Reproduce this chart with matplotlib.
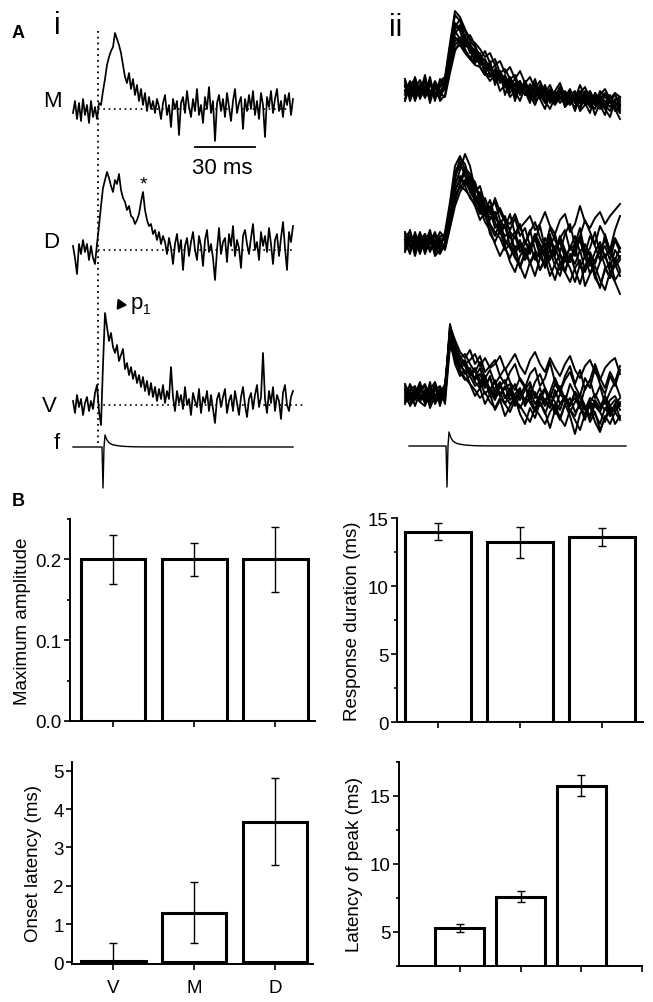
import numpy as np
import matplotlib
matplotlib.use("Agg")
import matplotlib.pyplot as plt
from matplotlib.ticker import MultipleLocator, FormatStrFormatter

plt.rcParams['font.family'] = ['Liberation Sans', 'DejaVu Sans']

W, H = 653, 1003

# ---------------- panel A, i : single responses (amplitude, px units, 1 ms step)
m_i = [-4, 8, -10, 6, -12, 10, -6, 4, -14, 8, -8, 2, -10, 6,
       4, 18, 30, 44, 52, 58, 62, 76, 70, 64, 56, 44, 32, 26, 36, 20, 30, 14, 24, 8, 20, 4,
       16, -2, 12, 0, 8, -4, 10, 2, -10, 6, 14, -6, 4, -18, 10, 0, 8, -26, 6, 12,
       -4, 18, 2, -8, 10, -2, 20, -6, 4, -14, 12, 0, 22, -4, 8, -32, 6, 14, -2, 10,
       -8, 16, 2, -12, 8, 20, -4, 6, 12, -20, 10, -2, 14, 0, 18, -6, 8, -10, 16, 4,
       -28, 12, 2, 18, -4, 10, 20, -2, 8, -8, 14, 4, 16, -6, 10]
d_i = [4, -8, -24, 6, -4, 10, -2, 6, -10, 4, -8, -14,
       6, 24, 44, 62, 70, 78, 72, 64, 58, 70, 66, 76, 60, 52, 48, 40, 44, 34, 32, 26,
       30, 36, 48, 58, 40, 30, 24, 26, 16, 20, 10, 18, 6, 14,
       8, -4, 12, 2, -14, 6, 16, -2, 10, -20, 4, 12, -6, 8, 18, 0, -10, 14, 4, -16,
       10, 20, -2, 6, -8, -30, 0, 22, -4, 8, 12, -12, 16, 4, 24, -6, 10, 2, -18, 14,
       20, 6, -4, 12, 26, 0, 8, -10, 18, 4, 14, -2, 22, 6, -14, 10, 16, -6, 12, 28,
       2, -20, 18, 8, 24]
v_i = [4, -8, 10, -2, 6, -10, 2, 8, -6, 4, -4, 12, 20, -6, -20,
       40, 92, 78, 64, 72, 58, 52, 60, 44, 50, 56, 36, 42, 30, 38, 26, 34, 22, 30, 18,
       28, 14, 24, 10, 22, 8, 18, 4, 16, 6, 20, 2, 14, 6, 38,
       8, -6, 14, 2, 10, -4, 18, 0, 6, -10, 12, 4, -2, 16, -8, 8, 2, 14, -6, 10,
       -4, -18, 6, 12, -2, 8, 16, -8, 4, 10, -6, 14, 2, -10, 8, 18, 0, -12, 6, 12,
       -4, 10, 20, -2, 8, 52, 6, -8, 14, 2, 18, -6, 10, 4, -14, 12, 20, 0, -6, 8, 14]
f_i_t = [0, 14.5, 15, 15.5, 16, 17, 18, 19, 20, 22, 24, 26, 28, 31, 35, 110]
f_i_y = [0, 0, -41, 0, 12, 7, 4.5, 3, 2.2, 1.4, 0.9, 0.6, 0.4, 0.2, 0.1, 0]

# ---------------- panel A, ii : overlaid responses (2.5 ms step)
m_ii = [
    [2, -5, 6, -3, 8, -6, 3, -2, 4, 38, 66, 58, 44, 40, 28, 30, 18, 22, 10, 16, 6, 12, 2, 8, -4, 5, -6, 2, -8, 0, -10, -2, -12, -4, -8, -14, -6, -16, -8, -12, -18, -10, -14, -20],
    [-4, 3, -8, 5, -2, 7, -5, 2, 8, 30, 56, 62, 50, 36, 34, 24, 26, 14, 18, 8, 12, 0, 6, -6, 4, -8, 2, -10, -2, -6, -14, -4, -10, -16, -6, -12, -2, -18, -10, -6, -16, -22, -12, -8],
    [6, -2, 4, -7, 2, -4, 7, -6, 0, 26, 48, 52, 42, 46, 30, 36, 20, 26, 12, 14, 4, 10, -2, 6, -6, 0, -10, 4, -4, -12, -2, -8, -16, -6, -2, -14, -8, -18, -4, -10, -20, -12, -6, -16],
    [-2, 8, -3, 2, -9, 4, -1, 6, 10, 42, 74, 68, 52, 44, 38, 26, 30, 20, 14, 18, 8, 4, 10, -2, 6, -4, -8, 0, -12, -2, -6, -10, -4, -14, -8, -2, -12, -6, -16, -10, -4, -14, -18, -10],
    [3, -6, 1, 9, -4, -8, 2, -3, 6, 34, 58, 50, 38, 32, 26, 32, 16, 12, 20, 6, 10, -4, 4, 8, -6, 2, -2, -8, 0, -14, -6, -10, -2, -12, -18, -8, -14, -6, -10, -20, -14, -8, -22, -16],
    [-6, 1, -4, 3, 6, -2, -7, 4, 4, 22, 44, 50, 46, 40, 36, 28, 22, 24, 12, 8, 14, 2, -4, 4, -2, -10, 4, -6, -14, -4, -8, 0, -10, -6, -14, -18, -4, -12, -8, -16, -6, -12, -18, -24],
    [4, -3, 8, -5, 0, 5, -4, -9, 7, 36, 62, 70, 58, 48, 42, 34, 28, 18, 24, 10, 6, 8, 0, -4, 2, -6, -2, -4, -10, -8, -4, -14, -6, -12, -10, -20, -8, -4, -14, -12, -18, -6, -16, -12],
    [-1, 5, -6, 0, 3, -5, 8, -2, 2, 28, 52, 46, 40, 30, 24, 22, 14, 16, 8, 12, 2, 6, -8, 2, -4, -2, -12, -6, 2, -10, -16, -8, -12, -4, -10, -6, -16, -14, -20, -8, -12, -18, -10, -14],
    [10, -8, 12, -4, 14, -10, 6, -12, -6, 20, 40, 44, 36, 30, 40, 22, 14, 28, 4, 18, -6, 10, -12, 4, -2, -14, 6, -10, -20, -4, -12, 2, -18, -8, -22, -6, -14, -24, -4, -16, -26, -8, -20, -30],
    [-10, 6, -12, 2, -6, 12, -10, 8, 12, 46, 78, 72, 60, 50, 46, 40, 32, 36, 24, 28, 16, 22, 10, 18, 6, 12, 0, 8, -4, 4, -8, 2, -6, -2, -10, 4, -8, -2, -12, -6, 0, -10, -4, -8],
    [8, -12, 2, -8, 10, -14, 4, -4, -8, 16, 38, 48, 54, 42, 26, 34, 16, 8, 14, -2, 4, -8, -2, -12, 2, -6, -16, -4, -12, -20, -8, -2, -18, -12, -4, -22, -16, -10, -26, -14, -20, -28, -12, -22],
    [-12, 4, 10, -10, 2, 8, -12, 10, 0, 32, 60, 64, 48, 54, 44, 30, 38, 26, 30, 16, 20, 10, 14, 0, 8, -2, 10, -6, 4, -10, -2, 6, -8, 0, -14, -4, 2, -10, -16, -2, -8, -14, -4, -18],
]
d_ii = [
    [4, -6, 8, -2, 6, -10, 2, -4, -2, 20, 62, 84, 78, 60, 46, 40, 34, 22, 30, 12, 18, 4, 10, -6, 2, -12, 8, -4, -16, 0, -10, 6, -8, -20, -2, 4, -14, -6, 10, -12, -4, -18, 2, -10],
    [-8, 2, -4, 10, -6, 4, -12, 0, 4, 30, 56, 72, 88, 76, 52, 48, 30, 36, 20, 8, 16, -4, 6, -10, -2, 12, -8, -16, 4, -6, 8, -12, -20, -4, -14, 6, -8, -24, -10, 0, -16, -6, -22, -14],
    [6, 10, -2, 4, -8, -2, 6, -10, 0, 24, 50, 64, 60, 52, 58, 40, 28, 32, 14, 20, 2, -6, -16, -24, -10, -2, -18, -8, -26, -14, -4, -20, -30, -12, -22, -8, -28, -16, -34, -20, -12, -30, -24, -18],
    [-2, -10, 4, -6, 2, 8, -4, 6, 6, 36, 70, 80, 66, 50, 42, 36, 44, 30, 26, 34, 22, 18, 28, 14, 20, 26, 12, 18, 30, 16, 8, 22, 28, 10, 18, 36, 20, 14, 24, 30, 18, 26, 32, 38],
    [2, 6, -8, 0, -4, 4, -6, -12, -2, 16, 40, 58, 70, 64, 48, 34, 20, 12, -2, -14, -4, -20, -30, -14, -6, -22, -12, -28, -18, -8, -24, -34, -16, -26, -40, -22, -30, -16, -36, -44, -28, -20, -38, -30],
    [-6, 0, 6, -4, 8, -2, 2, -6, 8, 32, 60, 66, 56, 44, 38, 50, 32, 24, 30, 14, 6, 10, -8, 2, -14, -4, 6, -10, -2, -18, -6, 4, -12, -20, -8, 2, -16, -10, -22, -4, -14, -26, -8, -16],
    [8, -4, 2, -10, 0, 6, -8, 4, 2, 22, 48, 54, 62, 58, 46, 36, 30, 42, 24, 18, 26, 10, 4, 16, 0, -6, 8, -2, -12, 4, -8, 0, -16, -6, 6, -10, -2, -14, -20, -8, 2, -12, -18, -6],
    [0, 4, -6, 6, -12, 2, 8, -2, -4, 26, 66, 76, 70, 56, 40, 28, 36, 18, 10, 4, -8, -2, -14, -24, -36, -20, -10, -28, -16, -34, -22, -12, -30, -40, -26, -18, -44, -32, -24, -38, -48, -30, -40, -52],
    [-10, 6, -14, 4, -2, 12, -8, 2, -8, 14, 36, 50, 58, 66, 60, 44, 30, 34, 40, 22, 14, 28, 8, 18, -2, 10, 20, 4, -6, 14, 2, -10, 8, 18, -4, 6, 22, 10, -2, 16, 6, -8, 12, 26],
    [10, -4, 4, -12, 6, 0, 10, -6, 10, 40, 76, 86, 72, 54, 46, 32, 26, 16, 6, 20, -4, 8, -12, -2, -18, -8, 4, -14, -24, -6, -16, -28, -10, -20, -4, -26, -14, -32, -18, -8, -24, -36, -16, -28],
    [-4, 12, -10, 2, 8, -6, 0, 10, 4, 28, 54, 60, 74, 68, 50, 56, 38, 28, 44, 30, 20, 12, 24, 6, 14, -4, 2, 16, -6, 8, -14, 4, 12, -8, -2, 14, -12, 6, -4, -18, 8, -10, 4, -6],
    [2, -12, 10, -6, -2, 6, -14, -8, -6, 18, 44, 56, 52, 46, 36, 22, 30, 8, 0, 12, -6, -16, -4, -26, -12, -20, -34, -16, -6, -24, -38, -20, -30, -12, -28, -42, -24, -14, -32, -46, -26, -36, -22, -34],
]
v_ii = [
    [4, -6, 2, 8, -4, -10, 6, -2, 4, 62, 40, 30, 22, 26, 14, 20, 8, 16, 2, 10, -4, 6, -8, 2, -6, 4, -10, -2, 6, -8, -14, 0, -6, -12, 2, -10, -16, -4, -8, -14, -2, -12, -18, -8],
    [-8, 2, -4, 6, 0, -6, 10, -4, 0, 70, 46, 34, 28, 18, 24, 12, 18, 4, 12, -2, 8, -6, 0, 6, -10, -4, 2, -12, -6, 0, -8, -16, -2, -10, -4, -14, -20, -8, -12, -18, -6, -22, -14, -10],
    [2, 8, -2, -8, 4, 6, -6, 2, 6, 56, 48, 38, 30, 34, 40, 28, 36, 26, 30, 38, 24, 32, 40, 28, 20, 34, 42, 30, 22, 36, 26, 18, 30, 38, 24, 16, 28, 34, 22, 14, 26, 32, 36, 20],
    [-4, -10, 4, 0, -6, 2, -2, -8, -2, 60, 38, 24, 16, 10, 4, -4, 2, -8, -14, -4, -10, -18, -6, -12, -20, -28, -14, -22, -30, -18, -10, -24, -32, -16, -26, -36, -20, -12, -28, -38, -22, -30, -18, -26],
    [6, 0, -6, 4, 10, -4, 0, -6, 2, 66, 50, 36, 32, 22, 16, 26, 10, 4, 14, -2, 6, 10, -4, 2, -8, 8, 0, -6, 4, -10, -2, 8, -6, -12, 2, -4, -14, -8, 0, -10, -16, -6, -2, -12],
    [-2, 4, 8, -6, 2, -8, 4, 8, -4, 52, 42, 30, 20, 24, 12, 6, 16, 2, -6, 8, -2, -10, -4, 4, -12, -2, -16, -8, -20, -6, -14, -24, -10, -4, -18, -12, -26, -8, -20, -30, -14, -22, -10, -24],
    [0, -4, 6, -2, -8, 6, -6, 2, 0, 64, 44, 36, 40, 30, 22, 32, 16, 24, 10, 18, 26, 12, 4, 16, 8, -2, 12, 20, 6, -4, 10, 2, 14, 22, 8, -2, 16, 6, 26, 10, 0, 18, 8, 24],
    [8, 2, -4, 10, -2, 0, -8, 4, -6, 58, 34, 22, 14, 18, 8, 12, 0, 6, -4, 2, -10, 0, -6, -14, -4, -8, -18, -2, -12, -6, -20, -10, -4, -16, -22, -8, -14, -24, -10, -18, -28, -12, -6, -16],
    [-10, 4, -12, 2, 8, -14, -2, 6, -10, 48, 36, 28, 34, 20, 26, 14, 6, 18, -2, 8, 14, 0, 10, -6, 4, 12, -4, 6, -10, 2, 16, 4, -8, 10, 0, -12, 6, 14, -4, 8, -10, 2, 12, -2],
    [10, -2, 6, -8, -12, 4, 12, -4, 4, 68, 54, 42, 36, 44, 30, 38, 22, 28, 34, 18, 10, 22, 30, 14, 6, 20, 26, 8, 16, 32, 12, 2, 18, 28, 10, 24, 4, 14, 30, 16, 6, 22, 12, 28],
    [-6, 10, 0, 12, -10, -2, 8, -12, 8, 54, 30, 18, 24, 10, -2, 6, -10, 0, -16, -6, -22, -12, -4, -20, -30, -14, -24, -8, -18, -34, -16, -26, -10, -22, -40, -20, -12, -28, -18, -36, -24, -14, -30, -22],
    [4, -12, -4, 8, -8, 12, -10, 0, 10, 62, 42, 26, 30, 18, 24, 8, 14, -2, 6, 12, -4, 2, -12, -2, 8, -8, -16, 0, -6, -14, 4, -10, -2, -18, -8, 0, -12, -22, -6, -14, -2, -20, -10, -4],
]
f_ii_t = [2, 20.5, 21, 21.5, 22, 23, 24, 25, 26, 28, 30, 32, 34, 37, 41, 110.5]
f_ii_y = [0, 0, -41, 0, 14, 8, 5, 3.5, 2.5, 1.6, 1.0, 0.7, 0.4, 0.2, 0.1, 0]

# ---------------- panel B data
groups = ['V', 'M', 'D']
amp_mean = [0.20, 0.20, 0.20]
amp_err = [0.03, 0.02, 0.04]
dur_mean = [14.0, 13.2, 13.6]
dur_err = [0.65, 1.15, 0.65]
onset_mean = [0.03, 1.30, 3.67]
onset_err = [0.47, 0.79, 1.13]
peak_mean = [5.3, 7.6, 15.75]
peak_err = [0.3, 0.4, 0.78]

fig = plt.figure(figsize=(W / 100, H / 100), dpi=100)


def px_axes(x0, y0, x1, y1):
    return fig.add_axes([x0 / W, 1 - y1 / H, (x1 - x0) / W, (y1 - y0) / H])


def ftext(px, py, s, **kw):
    fig.text(px / W, 1 - py / H, s, ha='center', va='center', **kw)


# ---- A i
ax = px_axes(0, 0, 330, 500)
ax.set_xlim((0 - 73) / 2, (330 - 73) / 2)
ax.set_ylim(-500, 0)
ax.axis('off')
dot = (0, (1, 2.2))
ax.plot([12.5, 12.5], [-32, -445], color='black', lw=1.3, ls=dot)
for base, t_end in [(-110, 111), (-251, 111), (-406, 115)]:
    ax.plot([12.5, t_end], [base, base], color='black', lw=1.2, ls=dot)
for base, y in [(-110, m_i), (-251, d_i), (-406, v_i)]:
    ax.plot(np.arange(len(y)), base + np.array(y), color='black', lw=1.25, zorder=3)
ax.plot(f_i_t, -448 + np.array(f_i_y), color='black', lw=1.0)
# scale bar 30 ms
ax.plot([61, 91], [-148, -148], color='black', lw=1.3)
ax.plot([23.5], [-305], marker=(3, 0, 25), ms=8, color='black')

# ---- A ii
ax2 = px_axes(330, 0, 653, 500)
ax2.set_xlim((330 - 405) / 2, (653 - 405) / 2)
ax2.set_ylim(-500, 0)
ax2.axis('off')
for base, traces in [(-90, m_ii), (-243, d_ii), (-395, v_ii)]:
    for y in traces:
        ax2.plot(np.arange(len(y)) * 2.5, base + np.array(y), color='black', lw=1.4)
ax2.plot(f_ii_t, -447 + np.array(f_ii_y), color='black', lw=1.0)

ftext(18, 33, 'A', fontsize=13, fontweight='bold')
ftext(57, 26, 'i', fontsize=22)
ftext(396, 28, 'ii', fontsize=22)
ftext(52, 102, 'M', fontsize=16)
ftext(51, 243, 'D', fontsize=16)
ftext(49, 406, 'V', fontsize=16)
ftext(57, 444, 'f', fontsize=16)
ftext(222, 168, '30 ms', fontsize=16)
ftext(143, 185, '*', fontsize=14)
ftext(137, 303, 'p', fontsize=16)
ftext(147, 310, '1', fontsize=10)
ftext(18, 502, 'B', fontsize=13, fontweight='bold')


# ---- B bars
def bar_panel(box, xpos, means, errs, xlim, ylim, major, minor, ylabel, fmt, labelpad,
              xticks=None, xlabels=None):
    a = px_axes(*box)
    a.bar(xpos, means, width=0.8, color='white', edgecolor='black', linewidth=2.2, zorder=2)
    a.errorbar(xpos, means, yerr=errs, fmt='none', ecolor='black', elinewidth=1.0,
               capsize=3, capthick=1.0, zorder=3)
    a.set_xlim(*xlim)
    a.set_ylim(*ylim)
    for s in ['top', 'right']:
        a.spines[s].set_visible(False)
    for s in ['left', 'bottom']:
        a.spines[s].set_linewidth(1.4)
    a.yaxis.set_major_locator(MultipleLocator(major))
    if minor:
        a.yaxis.set_minor_locator(MultipleLocator(minor))
    a.yaxis.set_major_formatter(FormatStrFormatter(fmt))
    a.set_xticks(xticks if xticks is not None else xpos)
    a.set_xticklabels(xlabels if xlabels is not None else [])
    a.tick_params(axis='both', which='major', direction='out', length=4.5, width=1.2,
                  labelsize=13.5, pad=1.5)
    a.tick_params(axis='y', which='minor', direction='out', length=2.5, width=1.2)
    a.tick_params(axis='x', which='major', pad=6)
    a.set_ylabel(ylabel, fontsize=13.5, labelpad=labelpad)
    return a


pos = [1, 2, 3]
bar_panel((70, 520, 315, 722), pos, amp_mean, amp_err, (0.47, 3.49), (0, 0.25),
          0.1, 0.05, 'Maximum amplitude', '%.1f', 3)
bar_panel((397, 519, 643, 723), pos, dur_mean, dur_err, (0.5, 3.5), (0, 15),
          5, 2.5, 'Response duration (ms)', '%d', 5)
bar_panel((72, 763, 313, 965), pos, onset_mean, onset_err, (0.49, 3.47), (-0.04, 5.23),
          1, None, 'Onset latency (ms)', '%d', 8, xlabels=groups)
bar_panel((399, 763, 642, 967), pos, peak_mean, peak_err, (0, 4), (2.5, 17.5),
          5, 2.5, 'Latency of peak (ms)', '%d', 5, xticks=[1, 2, 3, 4])

fig.savefig('out.png', dpi=100)
